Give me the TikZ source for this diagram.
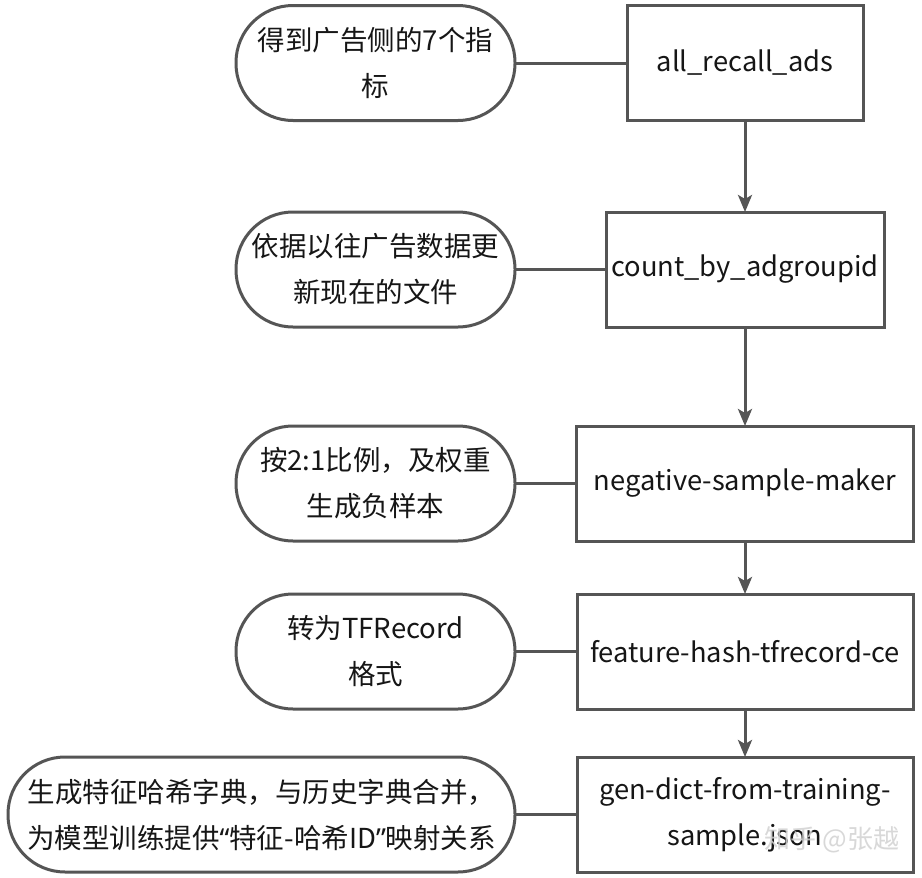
\documentclass[tikz,border=0pt]{standalone}
\usepackage{fontspec}
\setmainfont{Noto Sans CJK SC}
\newfontfamily\quotefont{Noto Sans}
\usetikzlibrary{arrows.meta}
\definecolor{edgec}{RGB}{85,85,85}
\definecolor{txtc}{RGB}{22,22,22}
\begin{document}
\begin{tikzpicture}[x=1pt,y=-1pt,
  every node/.style={inner sep=0pt, outer sep=0pt},
  procbox/.style={draw=edgec, line width=3pt, minimum height=115pt, align=center,
    text=txtc, font=\fontsize{27.3}{46}\selectfont},
  termbox/.style={draw=edgec, line width=3pt, minimum height=115pt, rounded corners=57pt,
    align=center, text=txtc, font=\fontsize{27.5}{46}\selectfont},
  conn/.style={draw=edgec, line width=3pt},
  arr/.style={draw=edgec, line width=3pt, -{Stealth[length=17pt,width=14pt,inset=4pt]}},
]
\useasboundingbox (0,0) rectangle (922,878);
\fill[white] (0,0) rectangle (922,878);

\node[procbox, minimum width=236pt] (b1) at (745,63) {all\_recall\_ads};
\node[procbox, minimum width=278pt] (b2) at (745,269.5) {count\_by\_adgroupid};
\node[procbox, minimum width=337pt] (b3) at (745,483.5) {negative-sample-maker};
\node[procbox, minimum width=336pt] (b4) at (745,651.5) {feature-hash-tfrecord-ce};
\node[procbox, minimum width=336pt] (b5) at (745,814.5) {gen-dict-from-training-\\sample.json};

\node[termbox, minimum width=279pt] (t1) at (375.5,63) {得到广告侧的7个指\\标};
\node[termbox, minimum width=279pt] (t2) at (375.5,269.5) {依据以往广告数据更\\新现在的文件};
\node[termbox, minimum width=279pt] (t3) at (375.5,483.5) {按2:1比例，及权重\\生成负样本};
\node[termbox, minimum width=279pt] (t4) at (375.5,651.5) {转为TFRecord\\格式};
\node[termbox, minimum width=507pt] (t5) at (261.5,814.5) {生成特征哈希字典，与历史字典合并，\\为模型训练提供{\quotefont “}特征-哈希ID{\quotefont ”}映射关系};

\draw[conn] (t1) -- (b1);
\draw[conn] (t2) -- (b2);
\draw[conn] (t3) -- (b3);
\draw[conn] (t4) -- (b4);
\draw[conn] (t5) -- (b5);

\draw[arr] (b1) -- (b2);
\draw[arr] (b2) -- (b3);
\draw[arr] (b3) -- (b4);
\draw[arr] (b4) -- (b5);

\node[text=gray!35, opacity=0.85, font=\fontsize{26}{30}\selectfont] (wm) at (832,840) {知乎 @张越};
\end{tikzpicture}
\end{document}
